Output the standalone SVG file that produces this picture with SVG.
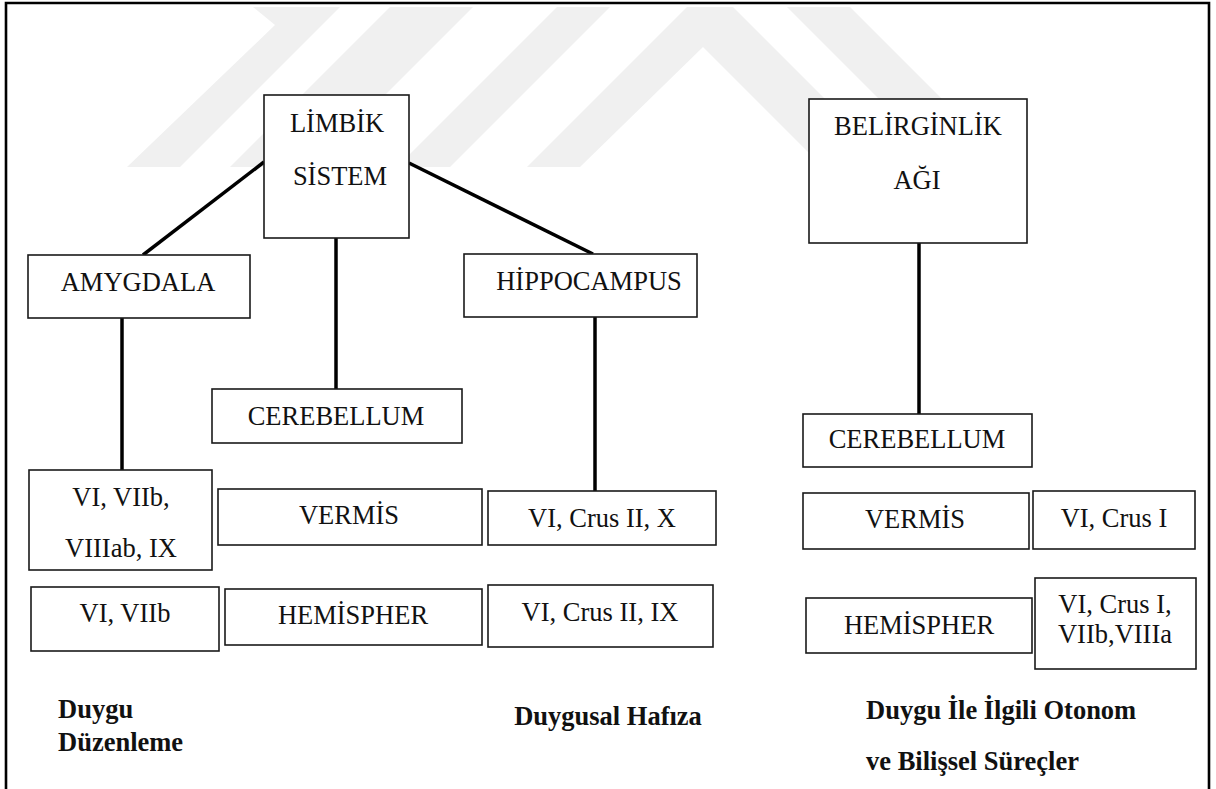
<svg xmlns="http://www.w3.org/2000/svg" width="1216" height="789" viewBox="0 0 1216 789">
<style>
.box{fill:#fff;stroke:#1a1a1a;stroke-width:1.6}
.t{font-family:"Liberation Serif","Times New Roman",serif;font-size:26.5px;fill:#111;text-anchor:middle}
.b{font-family:"Liberation Serif","Times New Roman",serif;font-size:26.5px;font-weight:bold;fill:#111}
.con line{stroke:#000;stroke-width:3.5;stroke-linecap:butt}
.wm{fill:#f0f0f0}
</style>
<rect x="0" y="0" width="1216" height="789" fill="#fff"/>
<g id="watermark" class="wm">
<polygon points="253,7 340,7 180,167 127,167 275,25"/>
<polygon points="390,7 473,7 313,167 230,167"/>
<polygon points="557,7 610,7 450,167 397,167"/>
<polygon points="687,7 733,7 893,167 823,167 703,47 580,167 527,167"/>
<polygon points="787,7 850,7 1010,167 947,167"/>
</g>
<g id="frame" fill="none" stroke="#000" stroke-width="2.6">
<polyline points="6,789 6,3 1209,3 1209,789"/>
</g>
<g id="connectors" class="con">
<line x1="264" y1="162" x2="143" y2="255"/>
<line x1="409" y1="163" x2="593" y2="254"/>
<line x1="336" y1="238" x2="336" y2="389"/>
<line x1="122" y1="318" x2="122" y2="470"/>
<line x1="595" y1="317" x2="595" y2="491"/>
<line x1="919" y1="243" x2="919" y2="414"/>
</g>
<g id="limbik"><rect class="box" x="264" y="95" width="145" height="143"/><text class="t" x="337" y="132">LİMBİK</text><text class="t" x="340" y="185">SİSTEM</text></g>
<g id="amygdala"><rect class="box" x="28" y="255" width="222" height="63"/><text class="t" x="138" y="291">AMYGDALA</text></g>
<g id="hippocampus"><rect class="box" x="464" y="254" width="233" height="63"/><text class="t" x="589" y="290">HİPPOCAMPUS</text></g>
<g id="cerebellum-left"><rect class="box" x="212" y="389" width="250" height="54"/><text class="t" x="336" y="425">CEREBELLUM</text></g>
<g id="amy-vermis-lobules"><rect class="box" x="29" y="470" width="183" height="100"/><text class="t" x="121" y="506">VI, VIIb,</text><text class="t" x="121" y="557">VIIIab, IX</text></g>
<g id="vermis-left"><rect class="box" x="218" y="489" width="264" height="56"/><text class="t" x="349" y="524">VERMİS</text></g>
<g id="hip-vermis-lobules"><rect class="box" x="488" y="491" width="228" height="54"/><text class="t" x="602" y="527">VI, Crus II, X</text></g>
<g id="amy-hem-lobules"><rect class="box" x="31" y="587" width="188" height="64"/><text class="t" x="125" y="622">VI, VIIb</text></g>
<g id="hemispher-left"><rect class="box" x="225" y="589" width="257" height="56"/><text class="t" x="353" y="624">HEMİSPHER</text></g>
<g id="hip-hem-lobules"><rect class="box" x="488" y="585" width="225" height="62"/><text class="t" x="600" y="621">VI, Crus II, IX</text></g>
<g id="belirginlik"><rect class="box" x="809" y="99" width="218" height="144"/><text class="t" x="918" y="135">BELİRGİNLİK</text><text class="t" x="917" y="189">AĞI</text></g>
<g id="cerebellum-right"><rect class="box" x="803" y="414" width="229" height="53"/><text class="t" x="917" y="448">CEREBELLUM</text></g>
<g id="vermis-right"><rect class="box" x="803" y="493" width="226" height="56"/><text class="t" x="915" y="528">VERMİS</text></g>
<g id="sal-vermis-lobules"><rect class="box" x="1033" y="491" width="162" height="58"/><text class="t" x="1114" y="527">VI, Crus I</text></g>
<g id="hemispher-right"><rect class="box" x="806" y="598" width="226" height="55"/><text class="t" x="919" y="634">HEMİSPHER</text></g>
<g id="sal-hem-lobules"><rect class="box" x="1035" y="578" width="161" height="91"/><text class="t" x="1115" y="613">VI, Crus I,</text><text class="t" x="1115" y="643">VIIb,VIIIa</text></g>
<g id="labels">
<text class="b" x="58" y="718">Duygu</text>
<text class="b" x="58" y="751">Düzenleme</text>
<text class="b" x="608" y="725" text-anchor="middle">Duygusal Hafıza</text>
<text class="b" x="866" y="719">Duygu İle İlgili Otonom</text>
<text class="b" x="866" y="770">ve Bilişsel Süreçler</text>
</g>
</svg>
